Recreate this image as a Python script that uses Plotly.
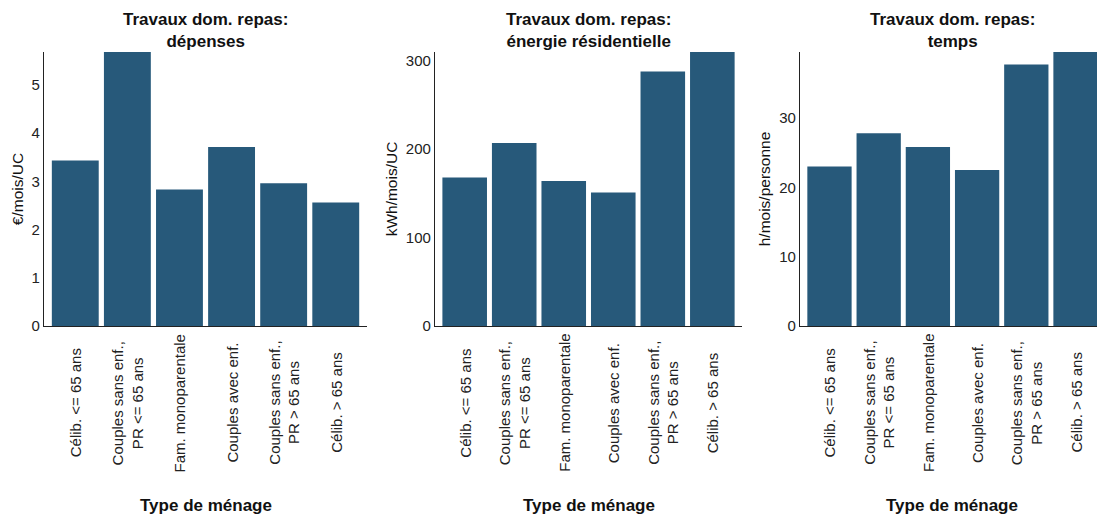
import plotly.graph_objects as go

categories = ["Célib. <= 65 ans", "Couples sans enf.,<br>PR <= 65 ans", "Fam. monoparentale",
              "Couples avec enf.", "Couples sans enf.,<br>PR > 65 ans", "Célib. > 65 ans"]
depenses = [3.43, 5.68, 2.83, 3.71, 2.96, 2.56]
energie = [168, 207, 164, 151, 288, 310]
temps = [23.0, 27.8, 25.8, 22.5, 37.7, 39.5]

titles = ["Travaux dom. repas:<br>dépenses", "Travaux dom. repas:<br>énergie résidentielle",
          "Travaux dom. repas:<br>temps"]
ytitles = ["€/mois/UC", "kWh/mois/UC", "h/mois/personne"]
ytickvals = [[0, 1, 2, 3, 4, 5], [0, 100, 200, 300], [0, 10, 20, 30]]
series = [depenses, energie, temps]

domains = [(0.0326, 0.3249), (0.3864, 0.6643), (0.7167, 0.9928)]
bar_color = "#27597a"
font = "Liberation Sans, Arial, sans-serif"

fig = go.Figure()
annotations = []
for i, vals in enumerate(series):
    n = "" if i == 0 else str(i + 1)
    fig.add_trace(go.Bar(x=list(range(len(categories))), y=vals, marker_color=bar_color,
                         marker_line_width=0, xaxis="x" + n, yaxis="y" + n, showlegend=False))
    fig.layout["xaxis" + n] = dict(
        domain=list(domains[i]), anchor="y" + n, range=[-0.6, 5.6], automargin=False,
        showticklabels=False, ticks="", showgrid=False, zeroline=False,
        showline=True, linecolor="#222", linewidth=1.2, fixedrange=True)
    fig.layout["yaxis" + n] = dict(
        domain=[0.3825, 0.9146], anchor="x" + n, range=[0, max(vals)], automargin=False,
        tickvals=ytickvals[i], ticks="", showgrid=False, zeroline=False,
        showline=True, linecolor="#222", linewidth=1.2,
        tickfont=dict(size=15, color="#222"),
        title=dict(text=ytitles[i], font=dict(size=15.5, color="#111"), standoff=4))
    cx = (domains[i][0] + domains[i][1]) / 2
    annotations.append(dict(text="<b>" + titles[i] + "</b>", x=cx, y=1.0, xref="paper", yref="paper",
                            xanchor="center", yanchor="top", showarrow=False,
                            font=dict(size=17, color="#111"), align="center"))
    annotations.append(dict(text="<b>Type de ménage</b>", x=cx, y=0.0, xref="paper", yref="paper",
                            xanchor="center", yanchor="bottom", yshift=6, showarrow=False,
                            font=dict(size=17, color="#111")))
    for j, c in enumerate(categories):
        annotations.append(dict(text=c, x=j, y=0.233, xref="x" + n, yref="paper",
                                xanchor="center", yanchor="middle",
                                textangle=-90, showarrow=False, align="center",
                                font=dict(size=15, color="#222")))

fig.update_layout(
    width=1105, height=515, margin=dict(l=0, r=0, t=0, b=0),
    plot_bgcolor="white", paper_bgcolor="white", bargap=0.1,
    font=dict(family=font), annotations=annotations)

fig.write_html("out.html")
